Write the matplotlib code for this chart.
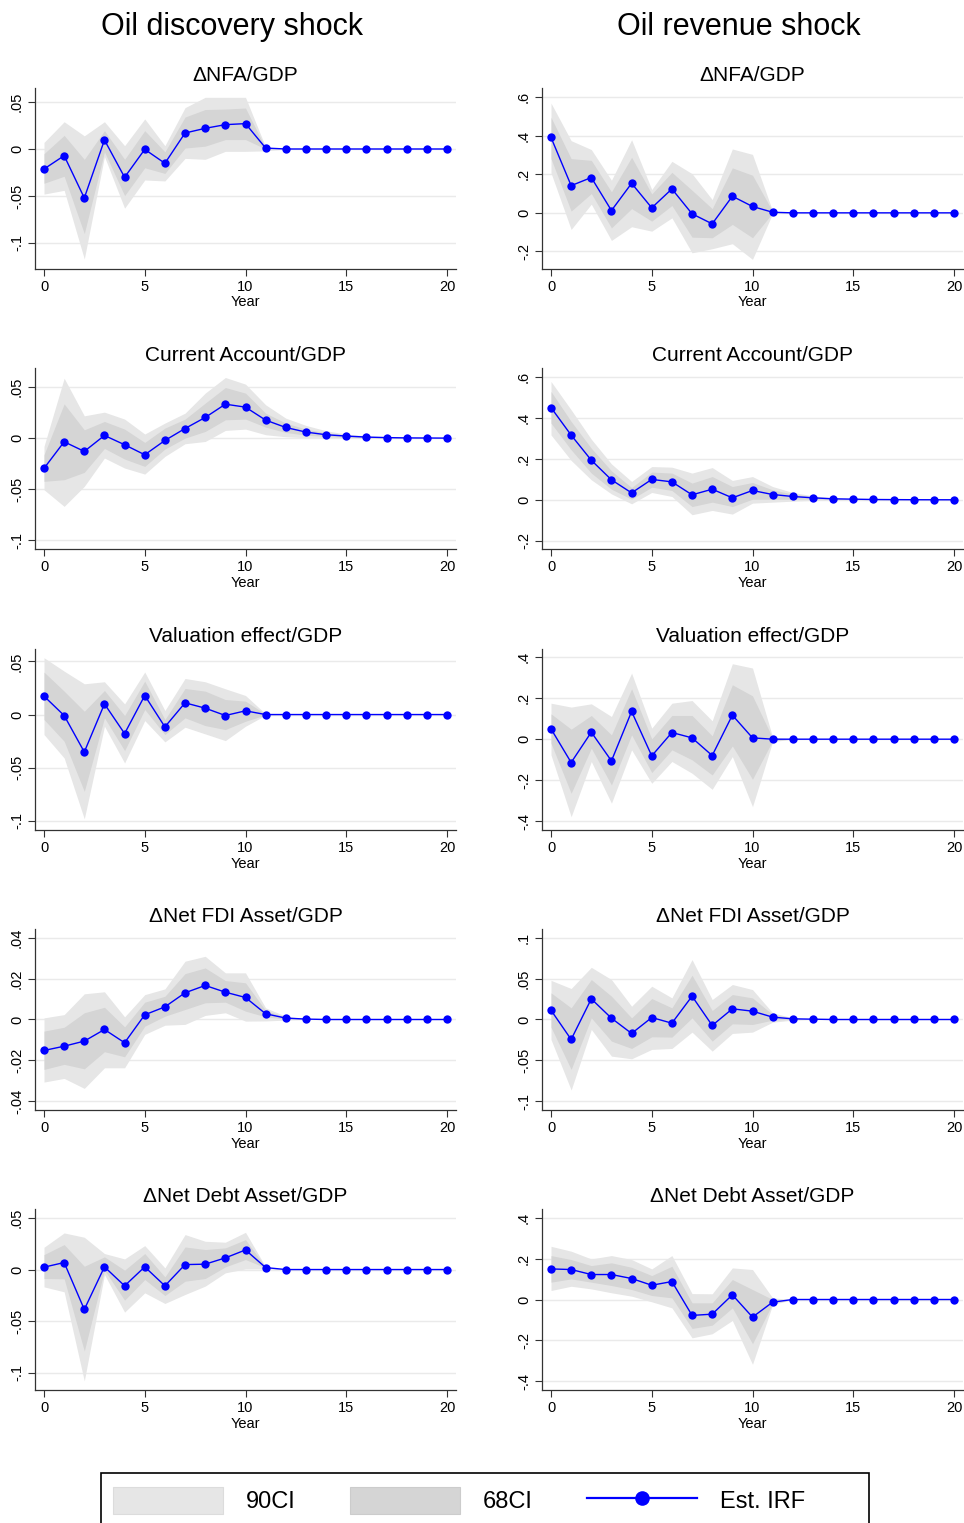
import matplotlib
matplotlib.use("Agg")
import matplotlib.pyplot as plt
from matplotlib.patches import Patch, Rectangle
from matplotlib.lines import Line2D

plt.rcParams["font.family"] = ["Liberation Sans", "DejaVu Sans"]

years = list(range(21))
col_titles = ["Oil discovery shock", "Oil revenue shock"]
panel_titles = ["\u0394NFA/GDP", "Current Account/GDP", "Valuation effect/GDP",
                "\u0394Net FDI Asset/GDP", "\u0394Net Debt Asset/GDP"]

Z9 = [0.0] * 9

# ---------------- Oil discovery shock ----------------
disc_nfa_irf = [-0.0213, -0.0071, -0.0521, 0.0096, -0.0301, -0.0004, -0.0152, 0.017, 0.022, 0.0259, 0.027, 0.001] + Z9
disc_nfa_u90 = [0.007, 0.029, 0.014, 0.029, 0.0035, 0.032, 0.0035, 0.044, 0.055, 0.055, 0.055, 0.002] + Z9
disc_nfa_l90 = [-0.048, -0.044, -0.117, -0.008, -0.063, -0.033, -0.034, -0.010, -0.011, -0.0025, -0.0025, -0.002] + Z9
disc_nfa_u68 = [-0.005, 0.0145, -0.011, 0.0195, -0.011, 0.0195, -0.003, 0.034, 0.042, 0.0425, 0.0436, 0.0007] + Z9
disc_nfa_l68 = [-0.0365, -0.029, -0.090, -0.003, -0.0496, -0.020, -0.026, 0.001, 0.003, 0.010, 0.010, 0.0] + Z9

disc_ca_irf = [-0.0296, -0.0036, -0.013, 0.0026, -0.0065, -0.0163, -0.0023, 0.0094, 0.0202, 0.0332, 0.0303,
               0.0176, 0.0104, 0.0059, 0.0033, 0.002, 0.001, 0.0005, 0.0002, 0.0001, 0.0]
disc_ca_u90 = [-0.008, 0.0586, 0.0218, 0.0254, 0.0186, 0.004, 0.0147, 0.0244, 0.044, 0.0593, 0.0528,
               0.0326, 0.0195, 0.0124, 0.0072, 0.0039, 0.0023, 0.0013, 0.0007, 0.0003, 0.0]
disc_ca_l90 = [-0.0505, -0.0668, -0.0472, -0.0195, -0.0293, -0.0352, -0.0179, -0.0055, -0.0033, 0.0075, 0.0088,
               0.0033, 0.0013, 0.0003, 0.0, 0.0, 0.0, 0.0, 0.0, 0.0, 0.0]
disc_ca_u68 = [-0.0163, 0.0335, 0.0081, 0.0163, 0.0088, -0.0042, 0.0098, 0.0186, 0.0342, 0.0495, 0.044,
               0.0244, 0.0147, 0.0088, 0.0052, 0.0029, 0.0016, 0.001, 0.0003, 0.0001, 0.0]
disc_ca_l68 = [-0.0423, -0.0407, -0.0335, -0.0101, -0.0205, -0.0277, -0.0107, 0.0, 0.0065, 0.0179, 0.0186,
               0.0107, 0.0055, 0.0029, 0.0016, 0.0007, 0.0003, 0.0, 0.0, 0.0, 0.0]

disc_val_irf = [0.0173, -0.0009, -0.0352, 0.010, -0.0179, 0.0179, -0.0116, 0.011, 0.006, -0.0009, 0.0035, 0.0] + Z9
disc_val_u90 = [0.0534, 0.0408, 0.0289, 0.0308, 0.010, 0.040, 0.0038, 0.0339, 0.0308, 0.0242, 0.0179, 0.0006] + Z9
disc_val_l90 = [-0.0188, -0.0408, -0.098, -0.011, -0.0455, -0.0057, -0.0257, -0.0119, -0.0182, -0.0245, -0.011, -0.0006] + Z9
disc_val_u68 = [0.0399, 0.022, 0.0031, 0.0226, -0.0009, 0.0314, -0.0047, 0.0245, 0.022, 0.0141, 0.0126, 0.0003] + Z9
disc_val_l68 = [-0.0047, -0.0251, -0.0722, -0.0031, -0.0339, 0.0047, -0.0188, -0.0031, -0.0104, -0.0141, -0.0063, -0.0003] + Z9

disc_fdi_irf = [-0.0152, -0.0131, -0.0106, -0.0049, -0.0114, 0.0023, 0.0062, 0.0131, 0.0167, 0.0134, 0.0108,
                0.0028, 0.0007, 0.0002, 0.0, 0.0, 0.0, 0.0, 0.0, 0.0, 0.0]
disc_fdi_u90 = [0.0008, 0.0024, 0.0126, 0.0136, 0.0013, 0.0122, 0.015, 0.0286, 0.031, 0.0229, 0.0229,
                0.0057, 0.0016, 0.0003, 0.0, 0.0, 0.0, 0.0, 0.0, 0.0, 0.0]
disc_fdi_l90 = [-0.0307, -0.0289, -0.0338, -0.0237, -0.0237, -0.0073, -0.0028, -0.0024, 0.002, 0.0033, -0.0008,
                -0.0007, -0.0003, 0.0, 0.0, 0.0, 0.0, 0.0, 0.0, 0.0, 0.0]
disc_fdi_u68 = [-0.0057, -0.0038, 0.0033, 0.006, -0.0036, 0.0085, 0.0114, 0.0225, 0.0253, 0.0191, 0.018,
                0.0044, 0.0011, 0.0002, 0.0, 0.0, 0.0, 0.0, 0.0, 0.0, 0.0]
disc_fdi_l68 = [-0.0245, -0.022, -0.0242, -0.0158, -0.0183, -0.0033, 0.0016, 0.0049, 0.0082, 0.0085, 0.0041,
                0.0013, 0.0002, 0.0, 0.0, 0.0, 0.0, 0.0, 0.0, 0.0, 0.0]

disc_debt_irf = [0.0023, 0.0068, -0.0387, 0.0026, -0.0158, 0.0026, -0.0158, 0.0048, 0.0052, 0.0113, 0.019, 0.0019] + Z9
disc_debt_u90 = [0.0216, 0.0355, 0.0313, 0.0155, 0.0103, 0.0232, 0.0016, 0.0339, 0.0274, 0.0265, 0.0361, 0.0026] + Z9
disc_debt_l90 = [-0.0168, -0.0216, -0.108, -0.0048, -0.0413, -0.0226, -0.0329, -0.0242, -0.0161, -0.0032, 0.0006, 0.0006] + Z9
disc_debt_u68 = [0.0145, 0.0242, 0.0032, 0.0123, -0.0006, 0.0155, -0.0071, 0.0219, 0.0194, 0.021, 0.029, 0.0023] + Z9
disc_debt_l68 = [-0.0087, -0.009, -0.079, -0.0006, -0.0297, -0.0097, -0.0252, -0.0113, -0.0087, 0.0026, 0.0097, 0.0016] + Z9

# ---------------- Oil revenue shock ----------------
rev_nfa_irf = [0.391, 0.141, 0.183, 0.012, 0.153, 0.026, 0.124, -0.005, -0.057, 0.086, 0.033, 0.003] + Z9
rev_nfa_u90 = [0.569, 0.374, 0.328, 0.169, 0.379, 0.121, 0.267, 0.203, 0.069, 0.331, 0.303, 0.009] + Z9
rev_nfa_l90 = [0.207, -0.086, 0.045, -0.143, -0.072, -0.095, -0.026, -0.207, -0.186, -0.160, -0.241, -0.003] + Z9
rev_nfa_u68 = [0.495, 0.281, 0.272, 0.109, 0.288, 0.098, 0.210, 0.117, 0.022, 0.233, 0.195, 0.007] + Z9
rev_nfa_l68 = [0.281, 0.009, 0.100, -0.078, 0.022, -0.043, 0.038, -0.126, -0.129, -0.060, -0.129, 0.0] + Z9

rev_ca_irf = [0.452, 0.317, 0.194, 0.098, 0.034, 0.100, 0.088, 0.0245, 0.052, 0.0098, 0.0457,
              0.026, 0.0163, 0.0098, 0.0049, 0.0033, 0.0016, 0.001, 0.0005, 0.0003, 0.0002]
rev_ca_u90 = [0.580, 0.441, 0.297, 0.176, 0.090, 0.163, 0.160, 0.131, 0.158, 0.095, 0.114,
              0.065, 0.036, 0.0196, 0.0098, 0.0049, 0.003, 0.0016, 0.001, 0.0005, 0.0003]
rev_ca_l90 = [0.318, 0.193, 0.098, 0.029, -0.0196, 0.036, 0.0163, -0.073, -0.052, -0.070, -0.0163,
              -0.0114, -0.0065, -0.003, -0.0016, -0.001, -0.0005, -0.0003, 0.0, 0.0, 0.0]
rev_ca_u68 = [0.531, 0.384, 0.253, 0.142, 0.060, 0.136, 0.131, 0.082, 0.114, 0.065, 0.085,
              0.049, 0.028, 0.0147, 0.0065, 0.0049, 0.003, 0.0013, 0.0008, 0.0004, 0.0003]
rev_ca_l68 = [0.376, 0.245, 0.131, 0.052, 0.003, 0.062, 0.0457, -0.033, -0.0114, -0.033, 0.003,
              0.003, 0.003, 0.003, 0.002, 0.0015, 0.001, 0.0005, 0.0002, 0.0001, 0.0]

rev_val_irf = [0.0506, -0.114, 0.0343, -0.106, 0.1355, -0.0816, 0.0327, 0.0065, -0.080, 0.1176, 0.0065, 0.0] + Z9
rev_val_u90 = [0.176, 0.157, 0.173, 0.111, 0.323, 0.054, 0.176, 0.189, 0.090, 0.369, 0.348, 0.0098] + Z9
rev_val_l90 = [-0.077, -0.379, -0.109, -0.313, -0.052, -0.2155, -0.109, -0.1665, -0.245, -0.085, -0.330, -0.0114] + Z9
rev_val_u68 = [0.124, 0.049, 0.116, 0.0212, 0.2465, 0.0016, 0.116, 0.116, 0.0163, 0.266, 0.212, 0.0049] + Z9
rev_val_l68 = [-0.0196, -0.2645, -0.044, -0.224, 0.0212, -0.163, -0.052, -0.101, -0.175, -0.033, -0.196, -0.0065] + Z9

rev_fdi_irf = [0.0114, -0.0245, 0.0253, 0.0016, -0.0171, 0.0024, -0.0045, 0.0286, -0.0073, 0.0131, 0.0102,
               0.0029, 0.0008, 0.0004, 0.0, 0.0, 0.0, 0.0, 0.0, 0.0, 0.0]
rev_fdi_u90 = [0.048, 0.038, 0.064, 0.049, 0.0163, 0.0408, 0.0265, 0.0735, 0.0245, 0.0429, 0.0367,
               0.0082, 0.002, 0.0005, 0.0, 0.0, 0.0, 0.0, 0.0, 0.0, 0.0]
rev_fdi_l90 = [-0.0245, -0.0865, -0.0122, -0.0449, -0.0482, -0.0367, -0.0355, -0.0155, -0.0388, -0.0171, -0.0155,
               -0.0033, -0.0008, 0.0, 0.0, 0.0, 0.0, 0.0, 0.0, 0.0, 0.0]
rev_fdi_u68 = [0.0327, 0.0143, 0.049, 0.0286, 0.002, 0.0257, 0.0143, 0.0543, 0.011, 0.0306, 0.0265,
               0.0061, 0.0013, 0.0004, 0.0, 0.0, 0.0, 0.0, 0.0, 0.0, 0.0]
rev_fdi_l68 = [-0.0094, -0.0612, 0.002, -0.0265, -0.0355, -0.0212, -0.0216, 0.002, -0.0265, -0.0053, -0.0061,
               -0.0008, 0.0003, 0.0003, 0.0, 0.0, 0.0, 0.0, 0.0, 0.0, 0.0]

rev_debt_irf = [0.150, 0.147, 0.1225, 0.1225, 0.103, 0.070, 0.088, -0.078, -0.072, 0.0229, -0.0865, -0.013] + Z9
rev_debt_u90 = [0.261, 0.237, 0.199, 0.2155, 0.196, 0.150, 0.2155, 0.029, 0.028, 0.155, 0.147, 0.008] + Z9
rev_debt_l90 = [0.044, 0.065, 0.052, 0.033, 0.0163, -0.0114, -0.041, -0.188, -0.168, -0.103, -0.318, -0.0245] + Z9
rev_debt_u68 = [0.2155, 0.196, 0.1665, 0.180, 0.158, 0.1175, 0.163, -0.0163, -0.0163, 0.098, 0.049, 0.0] + Z9
rev_debt_l68 = [0.085, 0.101, 0.085, 0.0686, 0.049, 0.0196, 0.008, -0.142, -0.126, -0.041, -0.217, -0.0196] + Z9

# y ticks and their printed labels (Stata style, no leading zero)
ticks_disc_a = [-0.1, -0.05, 0.0, 0.05]
labels_disc_a = ["-.1", "-.05", "0", ".05"]
ticks_fdi_disc = [-0.04, -0.02, 0.0, 0.02, 0.04]
labels_fdi_disc = ["-.04", "-.02", "0", ".02", ".04"]
ticks_rev_a = [-0.2, 0.0, 0.2, 0.4, 0.6]
labels_rev_a = ["-.2", "0", ".2", ".4", ".6"]
ticks_rev_b = [-0.4, -0.2, 0.0, 0.2, 0.4]
labels_rev_b = ["-.4", "-.2", "0", ".2", ".4"]
ticks_fdi_rev = [-0.1, -0.05, 0.0, 0.05, 0.1]
labels_fdi_rev = ["-.1", "-.05", "0", ".05", ".1"]

panels = [
    # (col, row, irf, u90, l90, u68, l68, ticks, labels, ylim)
    (0, 0, disc_nfa_irf, disc_nfa_u90, disc_nfa_l90, disc_nfa_u68, disc_nfa_l68, ticks_disc_a, labels_disc_a, (-0.1277, 0.0649)),
    (0, 1, disc_ca_irf, disc_ca_u90, disc_ca_l90, disc_ca_u68, disc_ca_l68, ticks_disc_a, labels_disc_a, (-0.1085, 0.0686)),
    (0, 2, disc_val_irf, disc_val_u90, disc_val_l90, disc_val_u68, disc_val_l68, ticks_disc_a, labels_disc_a, (-0.1085, 0.0616)),
    (0, 3, disc_fdi_irf, disc_fdi_u90, disc_fdi_l90, disc_fdi_u68, disc_fdi_l68, ticks_fdi_disc, labels_fdi_disc, (-0.0444, 0.0444)),
    (0, 4, disc_debt_irf, disc_debt_u90, disc_debt_l90, disc_debt_u68, disc_debt_l68, ticks_disc_a, labels_disc_a, (-0.1168, 0.0587)),
    (1, 0, rev_nfa_irf, rev_nfa_u90, rev_nfa_l90, rev_nfa_u68, rev_nfa_l68, ticks_rev_a, labels_rev_a, (-0.291, 0.647)),
    (1, 1, rev_ca_irf, rev_ca_u90, rev_ca_l90, rev_ca_u68, rev_ca_l68, ticks_rev_a, labels_rev_a, (-0.241, 0.646)),
    (1, 2, rev_val_irf, rev_val_u90, rev_val_l90, rev_val_u68, rev_val_l68, ticks_rev_b, labels_rev_b, (-0.444, 0.441)),
    (1, 3, rev_fdi_irf, rev_fdi_u90, rev_fdi_l90, rev_fdi_u68, rev_fdi_l68, ticks_fdi_rev, labels_fdi_rev, (-0.111, 0.111)),
    (1, 4, rev_debt_irf, rev_debt_u90, rev_debt_l90, rev_debt_u68, rev_debt_l68, ticks_rev_b, labels_rev_b, (-0.444, 0.444)),
]

C90 = "#e6e6e6"
C68 = "#d5d5d5"
BLUE = "#0000ff"

W, H = 964, 1523
fig = plt.figure(figsize=(W / 100, H / 100), dpi=100)

col_left_px = [35, 542]
row_top_px = [88, 368, 649, 929, 1209]
ax_w_px, ax_h_px = 421, 181

for col, row, irf, u90, l90, u68, l68, yt, yl, ylim in panels:
    left = col_left_px[col] / W
    bottom = 1 - (row_top_px[row] + ax_h_px) / H
    ax = fig.add_axes([left, bottom, ax_w_px / W, ax_h_px / H])
    ax.fill_between(years, l90, u90, color=C90, linewidth=0, zorder=1)
    ax.fill_between(years, l68, u68, color=C68, linewidth=0, zorder=2)
    ax.plot(years, irf, color=BLUE, linewidth=1.0, marker="o", markersize=6,
            markeredgewidth=0, zorder=4)
    ax.set_xlim(-0.447, 20.447)
    ax.set_ylim(*ylim)
    ax.set_xticks([0, 5, 10, 15, 20])
    ax.set_yticks(yt)
    ax.set_yticklabels(yl, rotation=90, va="center")
    ax.tick_params(axis="both", labelsize=10.5, length=5, width=0.8, color="#333333",
                   direction="out", pad=3)
    ax.grid(axis="y", color="#eaeaea", linewidth=1.0, zorder=0)
    ax.set_axisbelow(True)
    for s in ("top", "right"):
        ax.spines[s].set_visible(False)
    for s in ("left", "bottom"):
        ax.spines[s].set_linewidth(0.9)
        ax.spines[s].set_color("#333333")
    ax.set_xlabel("Year", fontsize=10.5, labelpad=1)
    ax.set_title(panel_titles[row], fontsize=15, pad=5)

# column headers
for x_px, txt in zip([232, 739], col_titles):
    fig.text(x_px / W, 1 - 27 / H, txt, fontsize=22, ha="center", va="center")

# legend with a hand-drawn frame
handles = [
    Patch(facecolor=C90, edgecolor="#dcdcdc", linewidth=0.8),
    Patch(facecolor=C68, edgecolor="#cccccc", linewidth=0.8),
    Line2D([0], [0], color=BLUE, linewidth=1.6, marker="o", markersize=10.5, markeredgewidth=0),
]
leg = fig.legend(handles, ["90CI", "68CI", "Est. IRF"], loc="upper left",
                 bbox_to_anchor=(113 / W, 1 - 1487 / H), ncol=3, frameon=False,
                 fontsize=17, handlelength=4.66, handleheight=1.38, handletextpad=0.97,
                 columnspacing=2.29, borderpad=0, borderaxespad=0)
fig.patches.append(Rectangle((101 / W, -0.02), (869 - 101) / W, (1 - 1473 / H) + 0.02,
                             transform=fig.transFigure, fill=False, edgecolor="black",
                             linewidth=1.2))

fig.savefig("out.png", dpi=100)
